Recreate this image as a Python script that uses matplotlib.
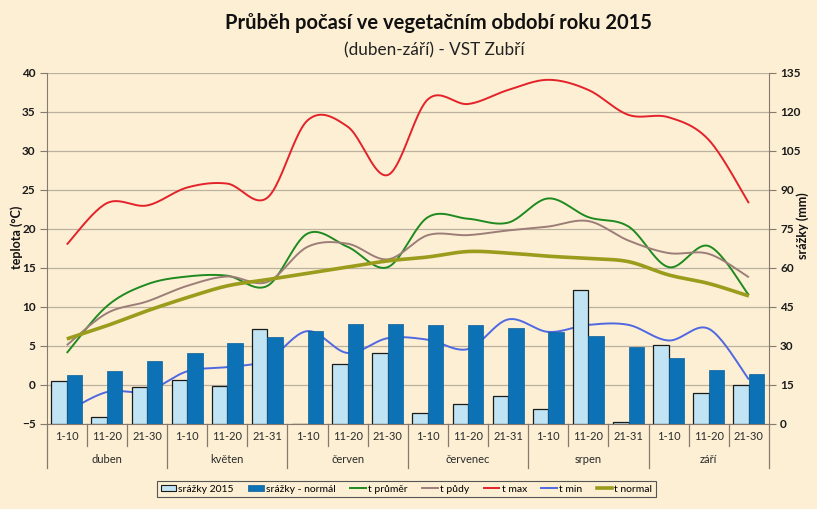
import numpy as np
import matplotlib
matplotlib.use("Agg")
import matplotlib.pyplot as plt
from matplotlib.patches import Patch
from matplotlib.lines import Line2D

plt.rcParams['font.family'] = ['Lato', 'DejaVu Sans']

# ---------------- data ----------------
months = ['duben', 'květen', 'červen', 'červenec', 'srpen', 'září']
decades = ['1-10', '11-20', '21-30', '1-10', '11-20', '21-31',
           '1-10', '11-20', '21-30', '1-10', '11-20', '21-31',
           '1-10', '11-20', '21-31', '1-10', '11-20', '21-30']

srazky_2015 = [16.5, 2.8, 14.4, 16.8, 14.7, 36.5, 0.0, 23.1, 27.1,
               4.4, 7.7, 10.6, 5.9, 51.4, 0.8, 30.4, 12.1, 14.9]
srazky_normal = [19.0, 20.4, 24.1, 27.3, 31.0, 33.5, 35.6, 38.5, 38.5,
                 38.1, 38.1, 36.8, 35.5, 34.0, 29.6, 25.3, 20.9, 19.4]

t_prumer = [4.1, 10.1, 12.9, 13.9, 14.0, 12.7, 19.4, 17.7, 15.1,
            21.5, 21.3, 20.8, 23.9, 21.5, 20.3, 15.1, 17.8, 11.5]
t_pudy = [5.1, 9.2, 10.7, 12.7, 13.9, 13.2, 17.7, 18.1, 16.1,
          19.2, 19.2, 19.8, 20.3, 21.0, 18.5, 16.9, 16.8, 13.8]
t_max = [18.0, 23.3, 23.0, 25.3, 25.8, 24.0, 33.9, 33.1, 26.9,
         36.6, 36.0, 37.8, 39.1, 37.8, 34.6, 34.3, 31.4, 23.3]
t_min = [-3.4, -0.9, -0.8, 1.75, 2.3, 3.2, 6.9, 4.1, 6.0,
         5.8, 4.6, 8.4, 6.8, 7.7, 7.7, 5.7, 7.2, 0.7]
t_normal = [5.9, 7.6, 9.5, 11.2, 12.7, 13.5, 14.3, 15.1, 15.9,
            16.4, 17.1, 16.9, 16.5, 16.2, 15.8, 14.1, 13.0, 11.4]


def smooth(xs, ys, n=24):
    """Excel-like smoothed line (cubic Bezier through the points)."""
    P = np.column_stack([xs, ys]).astype(float)
    m = len(P)
    out = []
    for i in range(m - 1):
        p0 = P[i]
        p3 = P[i + 1]
        pm = P[i - 1] if i > 0 else P[i]
        pp = P[i + 2] if i + 2 < m else P[i + 1]
        p1 = p0 + (p3 - pm) / 6.0
        p2 = p3 - (pp - p0) / 6.0
        t = np.linspace(0, 1, n, endpoint=(i == m - 2))[:, None]
        seg = ((1 - t) ** 3) * p0 + 3 * ((1 - t) ** 2) * t * p1 + 3 * (1 - t) * t ** 2 * p2 + t ** 3 * p3
        out.append(seg)
    out = np.vstack(out)
    return out[:, 0], out[:, 1]


bg = '#fcefd4'
axis_col = '#857a6c'
grid_col = '#bcb09e'

fig = plt.figure(figsize=(8.17, 5.09), dpi=100, facecolor=bg)
ax = fig.add_axes([0.0572, 0.167, 0.884, 0.690])
ax.patch.set_visible(False)

x = np.arange(len(decades))
ax.set_xlim(-0.5, len(decades) - 0.5)
ax.set_ylim(-5, 40)
ax.set_yticks(np.arange(-5, 41, 5))
ax.grid(axis='y', color=grid_col, lw=0.9)
ax.set_axisbelow(True)

series = [
    (t_prumer, '#1f8a1f', 1.4, 't průměr'),
    (t_pudy, '#9d7d78', 1.4, 't půdy'),
    (t_max, '#e3222a', 1.4, 't max'),
    (t_min, '#4f68e2', 1.4, 't min'),
    (t_normal, '#9b9b1c', 2.6, 't normal'),
]
for vals, col, lw, lab in series:
    sx, sy = smooth(x, vals)
    ax.plot(sx, sy, color=col, lw=lw, solid_capstyle='butt', zorder=3)

ax2 = ax.twinx()
ax2.set_ylim(0, 135)
ax2.set_yticks(np.arange(0, 136, 15))
w = 0.385
ax2.bar(x - w / 2, srazky_2015, width=w, color='#c0e4f3', edgecolor='#1a1a1a', linewidth=0.9, zorder=3)
ax2.bar(x + w / 2, srazky_normal, width=w, color='#0d71b5', edgecolor='#0b5f99', linewidth=0.5, zorder=3)

for a in (ax, ax2):
    for s in a.spines.values():
        s.set_visible(False)
ax.spines['left'].set_visible(True)
ax.spines['left'].set_color(axis_col)
ax.spines['bottom'].set_visible(True)
ax.spines['bottom'].set_color(axis_col)
ax2.spines['right'].set_visible(True)
ax2.spines['right'].set_color(axis_col)

ax.tick_params(axis='y', direction='out', length=5, color=axis_col, labelsize=8.5, pad=3)
ax2.tick_params(axis='y', direction='out', length=5, color=axis_col, labelsize=8.5, pad=3)
for lab in ax.get_yticklabels() + ax2.get_yticklabels():
    lab.set_fontweight('bold')
    lab.set_color('#1a1a1a')
ax.tick_params(axis='x', length=0, labelbottom=False)
ax2.tick_params(axis='x', length=0, labelbottom=False)

# two-level category axis
trans = ax.get_xaxis_transform()
for i, d in enumerate(decades):
    ax.text(i, -0.037, d, transform=trans, ha='center', va='center', fontsize=8, color='#2a2a2a')
for k in range(len(decades) + 1):
    xb = k - 0.5
    if k % 3 == 0:
        ax.plot([xb, xb], [0, -0.124], transform=trans, color=axis_col, lw=0.9, clip_on=False)
    else:
        ax.plot([xb, xb], [0, -0.063], transform=trans, color=axis_col, lw=0.9, clip_on=False)
for j, mname in enumerate(months):
    ax.text(3 * j + 1, -0.102, mname, transform=trans, ha='center', va='center', fontsize=8, color='#2a2a2a')

# titles
fig.text(438 / 817, 1 - 23 / 509, 'Průběh počasí ve vegetačním období roku 2015',
         ha='center', va='center', fontsize=14.5, fontweight='bold', color='#111111')
fig.text(434 / 817, 1 - 50 / 509, '(duben-září) - VST Zubří',
         ha='center', va='center', fontsize=12.3, color='#222222')
fig.text(17 / 817, 1 - 237 / 509, 'teplota (°C)', rotation=90, ha='center', va='center',
         fontsize=9, fontweight='bold', color='#111111')
fig.text(803 / 817, 1 - 226 / 509, 'srážky (mm)', rotation=90, ha='center', va='center',
         fontsize=9, fontweight='bold', color='#111111')

handles = [
    Patch(facecolor='#c0e4f3', edgecolor='#1a1a1a', linewidth=0.8),
    Patch(facecolor='#0d71b5', edgecolor='#0b5f99', linewidth=0.5),
] + [Line2D([0], [0], color=c, lw=l) for _, c, l, _ in series]
labels = ['srážky 2015', 'srážky - normál'] + [s[3] for s in series]
leg = fig.legend(handles, labels, loc='center', bbox_to_anchor=(406.5 / 817, 1 - 489 / 509),
                 ncol=7, fontsize=7.5, frameon=True, fancybox=False, edgecolor='#555555',
                 facecolor=bg, framealpha=1, handlelength=1.5, handleheight=0.6,
                 handletextpad=0.2, columnspacing=1.4, borderpad=0.35)
leg.get_frame().set_linewidth(0.8)

fig.savefig('out.png', dpi=100, facecolor=bg)
